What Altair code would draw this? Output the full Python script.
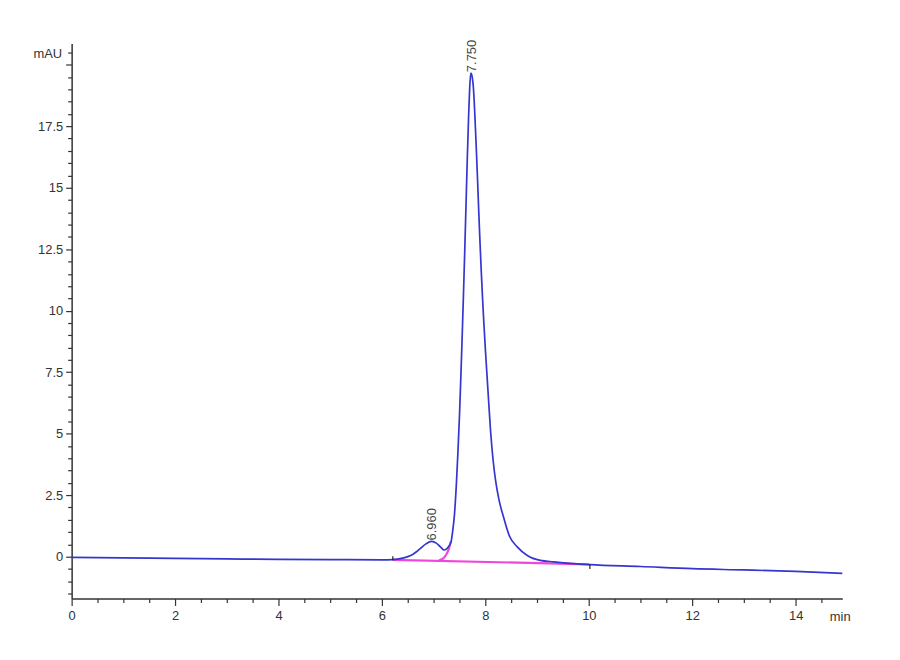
import altair as alt
import pandas as pd

# ---- data ----
trace_t = [0, 1, 2, 3, 4, 5, 6, 6.21, 6.3, 6.4, 6.5, 6.6, 6.66, 6.75, 6.85, 6.96,
           7.05, 7.13, 7.205, 7.25, 7.30, 7.335, 7.365, 7.40, 7.44, 7.47, 7.50,
           7.525, 7.55, 7.575, 7.60, 7.625, 7.65, 7.675, 7.695, 7.717,
           7.745, 7.77, 7.795, 7.82, 7.845, 7.87, 7.895, 7.92, 7.945, 7.97,
           8.00, 8.03, 8.06, 8.10, 8.15, 8.20, 8.26, 8.36, 8.46, 8.62, 8.81, 9.06,
           9.32, 9.71, 10.02, 11, 12, 13, 14, 14.9]
trace_v = [-0.03, -0.05, -0.07, -0.09, -0.11, -0.12, -0.13, -0.12, -0.10, -0.06, 0.0,
           0.10, 0.19, 0.35, 0.52, 0.62,
           0.55, 0.40, 0.27, 0.32, 0.45, 0.59, 1.0, 1.67, 3.0, 4.3, 5.8,
           7.3, 8.9, 10.6, 12.4, 14.3, 16.2, 17.9, 19.0, 19.66,
           19.5, 19.0, 18.0, 16.8, 15.5, 14.1, 12.8, 11.6, 10.5, 9.5,
           8.4, 7.4, 6.4, 5.1, 3.9, 3.05, 2.34, 1.54, 0.86, 0.39, 0.05, -0.15,
           -0.21, -0.28, -0.32, -0.40, -0.49, -0.54, -0.60, -0.68]

# integration baselines (magenta)
base_t = [6.21, 10.0]
base_v = [-0.13, -0.31]
skim_t = [7.10, 7.18, 7.24, 7.29, 7.33]
skim_v = [-0.15, -0.08, 0.08, 0.30, 0.62]

# integration event markers
event_t = [6.21, 10.02]
event_top = [0.02, -0.30]
event_bot = [-0.15, -0.50]

# peak labels
peak_t = [6.96, 7.75]
peak_v = [0.62, 19.66]
peak_label = ["6.960", "7.750"]

# ---- tables ----
trace = pd.DataFrame({"t": trace_t, "v": trace_v})
magenta = pd.concat([
    pd.DataFrame({"t": base_t, "v": base_v, "seg": "base"}),
    pd.DataFrame({"t": skim_t, "v": skim_v, "seg": "skim"}),
])
events = pd.DataFrame({"t": event_t, "v": event_top, "v2": event_bot})
peaks = pd.DataFrame({"t": peak_t, "v": peak_v, "label": peak_label})

FONT = "Liberation Sans, Arial"
AX = "#333333"

x_vals = [i * 0.5 for i in range(0, 30)]
y_vals = [i * 0.5 for i in range(-3, 42)]

x_axis = alt.Axis(
    values=x_vals,
    labelExpr="datum.value % 2 === 0 ? '' + datum.value : ''",
    tickSize={"condition": {"test": "datum.value % 2 === 0", "value": 7}, "value": 4},
    grid=False, domainColor=AX, domainWidth=1.5, tickColor=AX, tickWidth=1.2,
    labelFont=FONT, labelFontSize=13, labelColor=AX, labelPadding=4,
    labelFlush=False, labelOverlap=False,
    title="min", titleFont=FONT, titleFontSize=13, titleFontWeight="normal",
    titleColor=AX, titleAngle=0, titleAlign="left", titleBaseline="top",
    titleX=762, titleY=12,
)
y_axis = alt.Axis(
    values=y_vals,
    labelExpr="(datum.value % 2.5 === 0 && datum.value <= 17.5) ? '' + datum.value : ''",
    tickSize={"condition": {"test": "datum.value % 2.5 === 0", "value": 6}, "value": 4},
    grid=False, domainColor=AX, domainWidth=1.5, tickColor=AX, tickWidth=1.2,
    labelFont=FONT, labelFontSize=13, labelColor=AX, labelPadding=3,
    labelFlush=False, labelOverlap=False,
    title="mAU", titleFont=FONT, titleFontSize=13, titleFontWeight="normal",
    titleColor=AX, titleAngle=0, titleAlign="right", titleBaseline="middle",
    titleX=-10, titleY=10,
)

x_enc = alt.X("t:Q", axis=x_axis,
              scale=alt.Scale(domain=[0, 14.9], nice=False, zero=False))
y_enc = alt.Y("v:Q", axis=y_axis,
              scale=alt.Scale(domain=[-1.7, 20.86], nice=False, zero=False))

magenta_layer = alt.Chart(magenta).mark_line(
    color="#f046dc", strokeWidth=2.2, interpolate="monotone"
).encode(x=x_enc, y=y_enc, detail="seg:N")

trace_layer = alt.Chart(trace).mark_line(
    color="#3535cf", strokeWidth=1.7, interpolate="monotone"
).encode(x=x_enc, y=y_enc)

event_layer = alt.Chart(events).mark_rule(
    color="#222222", strokeWidth=1.2
).encode(x=x_enc, y=y_enc, y2="v2:Q")

label_layer = alt.Chart(peaks).mark_text(
    angle=270, align="left", baseline="middle", dx=1,
    font=FONT, fontSize=13, color="#444444"
).encode(x=x_enc, y=y_enc, text="label:N")

chart = alt.layer(
    magenta_layer, trace_layer, event_layer, label_layer
).properties(
    width=775, height=558,
    autosize=alt.AutoSizeParams(type="none"),
    padding={"left": 64, "top": 34, "right": 50, "bottom": 50},
    background="white",
).configure_view(strokeOpacity=0, strokeWidth=0)

chart.save("out.html", embed_options={"renderer": "svg", "actions": False})
